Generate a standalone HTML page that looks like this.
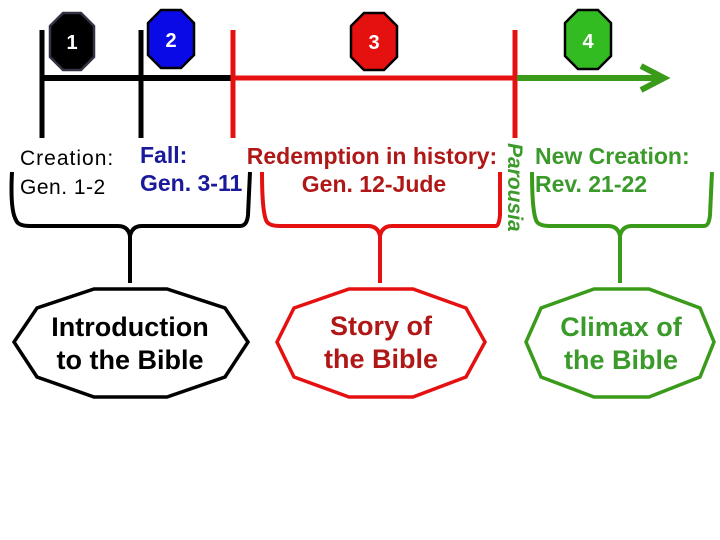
<!DOCTYPE html>
<html><head><meta charset="utf-8"><style>
html,body{margin:0;padding:0;background:#fff;}
svg{display:block;}
text{font-family:"Liberation Sans",Arial,sans-serif;}
</style></head><body>
<svg width="720" height="540" viewBox="0 0 720 540" xmlns="http://www.w3.org/2000/svg">
<line x1="42" y1="30" x2="42" y2="138" stroke="#000" stroke-width="5"/>
<line x1="141" y1="30" x2="141" y2="138" stroke="#000" stroke-width="5"/>
<line x1="42" y1="78" x2="233" y2="78" stroke="#000" stroke-width="6"/>
<line x1="233" y1="78" x2="515" y2="78" stroke="#e51010" stroke-width="5"/>
<line x1="233" y1="30" x2="233" y2="138" stroke="#e51010" stroke-width="5"/>
<line x1="515" y1="30" x2="515" y2="138" stroke="#e51010" stroke-width="5"/>
<line x1="517" y1="78" x2="660" y2="78" stroke="#3a9a1a" stroke-width="6"/>
<polyline points="641,66 664,78 641,90" fill="none" stroke="#3a9a1a" stroke-width="6"/>
<g stroke="#000" stroke-width="2.5">
<polygon points="63,13 81,13 94,26 94,57 81,70 63,70 50,57 50,26" fill="#000" stroke="#334"/>
<polygon points="161,10 181,10 194,23 194,55 181,68 161,68 148,55 148,23" fill="#0a0ae6"/>
<polygon points="364,13 384,13 397,26 397,57 384,70 364,70 351,57 351,26" fill="#e51010"/>
<polygon points="578,10 598,10 611,23 611,56 598,69 578,69 565,56 565,23" fill="#33bb22"/>
</g>
<g fill="#fff" font-weight="bold" font-size="20" text-anchor="middle">
<text x="72" y="49">1</text>
<text x="171" y="47">2</text>
<text x="374" y="49">3</text>
<text x="588" y="48">4</text>
</g>
<text x="20" y="165" font-size="21" letter-spacing="1" fill="#000">Creation:</text>
<text x="20" y="194" font-size="21" letter-spacing="0.5" fill="#000">Gen. 1-2</text>
<text x="140" y="163" font-size="23" font-weight="bold" fill="#1a1a9a">Fall:</text>
<text x="140" y="191" font-size="23" font-weight="bold" fill="#1a1a9a">Gen. 3-11</text>
<text x="372" y="164" font-size="23" font-weight="bold" fill="#b01818" text-anchor="middle">Redemption in history:</text>
<text x="374" y="192" font-size="23" font-weight="bold" fill="#b01818" text-anchor="middle">Gen. 12-Jude</text>
<text x="535" y="164" font-size="23" font-weight="bold" fill="#3a9a2a">New Creation:</text>
<text x="535" y="192" font-size="23" font-weight="bold" fill="#3a9a2a">Rev. 21-22</text>
<text x="0" y="0" font-size="21" font-weight="bold" font-style="italic" fill="#3a9a2a" transform="translate(508,143) rotate(90)">Parousia</text>
<path d="M12,172 Q10,210 16,220 Q18,226 30,226 L118,226 Q128,226 130,236 L130,283 M130,236 Q132,226 142,226 L240,226 Q247,226 248,215 L250,172" fill="none" stroke="#000" stroke-width="4"/>
<path d="M262,172 Q262,210 266,220 Q268,226 280,226 L368,226 Q378,226 380,236 L380,283 M380,236 Q382,226 392,226 L496,226 Q499,226 500,215 L500,172" fill="none" stroke="#e51010" stroke-width="4"/>
<path d="M532,172 Q532,210 536,220 Q538,226 550,226 L608,226 Q618,226 620,236 L620,283 M620,236 Q622,226 632,226 L704,226 Q709,226 710,215 L712,172" fill="none" stroke="#3a9a1a" stroke-width="4"/>
<polygon points="94,289 167,289 225,308 248,342 225,377 167,397 94,397 37,377 14,342 37,308" fill="#fff" stroke="#000" stroke-width="3.5"/>
<polygon points="349,289 413,289 466,308 485,342 466,377 413,397 349,397 294,377 277,342 294,308" fill="#fff" stroke="#e51010" stroke-width="3.5"/>
<polygon points="594,289 649,289 700,308 714,342 700,377 649,397 594,397 541,377 526,342 541,308" fill="#fff" stroke="#3a9a1a" stroke-width="3.5"/>
<g font-size="27" font-weight="bold" text-anchor="middle">
<text x="130" y="336" fill="#000">Introduction</text>
<text x="130" y="369" fill="#000">to the Bible</text>
<text x="381" y="335" fill="#b01818">Story of</text>
<text x="381" y="368" fill="#b01818">the Bible</text>
<text x="621" y="336" fill="#3a9a2a">Climax of</text>
<text x="621" y="369" fill="#3a9a2a">the Bible</text>
</g>
</svg>
</body></html>
